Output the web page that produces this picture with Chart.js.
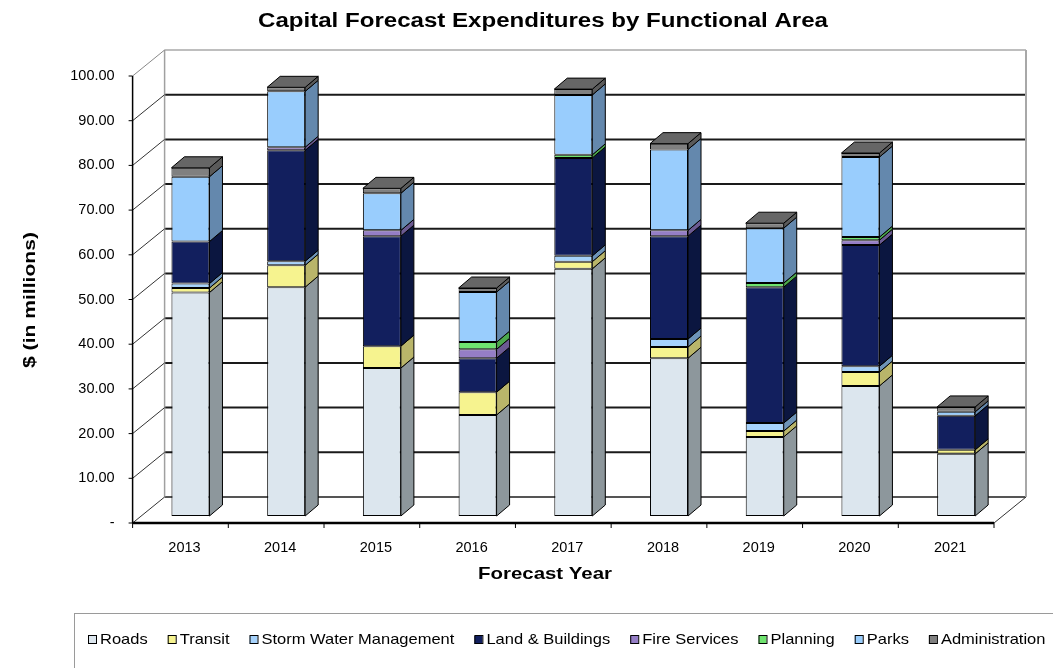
<!DOCTYPE html>
<html lang="en">

<head>
  <meta charset="UTF-8" />
  <title>Capital Forecast Expenditures by Functional Area</title>
  <script src="https://cdn.jsdelivr.net/npm/chart.js"></script>
  <style>
    body {
      margin: 0;
      background: #ffffff;
    }

    canvas {
      display: block;
    }
  </style>
</head>

<body>
  <canvas id="capitalChart" width="1053" height="668"></canvas>

  <script>
    // Dados ($ em milhões)
    const years = ['2013', '2014', '2015', '2016', '2017', '2018', '2019', '2020', '2021'];
    const roads = [50.0, 51.2, 33.1, 22.6, 55.3, 35.3, 17.7, 29.1, 13.9];
    const transit = [1.0, 4.9, 4.9, 5.1, 1.6, 2.5, 1.3, 3.1, 0.9];
    const stormWater = [1.0, 0.9, 0, 0, 1.3, 1.8, 1.8, 1.3, 0];
    const landBuildings = [9.4, 24.8, 24.6, 7.6, 21.9, 23.0, 30.4, 27.1, 7.6];
    const fireServices = [0, 0.7, 1.3, 2.0, 0, 1.3, 0, 1.1, 0];
    const planning = [0, 0, 0, 1.6, 0.7, 0, 0.9, 0.7, 0];
    const parks = [14.5, 12.5, 8.3, 11.2, 13.4, 18.1, 12.3, 17.9, 0.9];
    const administration = [2.0, 0.9, 1.1, 0.9, 1.3, 1.3, 1.1, 0.9, 1.1];

    const seriesNames = ['Roads', 'Transit', 'Storm Water Management', 'Land & Buildings',
      'Fire Services', 'Planning', 'Parks', 'Administration'];
    const seriesData = [roads, transit, stormWater, landBuildings, fireServices, planning, parks, administration];

    const yMax = 100;
    const yStep = 10;

    // cores: frente / lateral / topo
    const frontColors = ['#dce6ee', '#f6f38f', '#a6d2fb', '#121f5e', '#957ec6', '#6fe36f', '#99cdfd', '#808080'];
    const sideColors = ['#8d979c', '#b9b56a', '#6d93b8', '#0b1640', '#6b5a92', '#4ca84c', '#6488ad', '#5a5a5a'];
    const topColors = ['#b8c2c8', '#d8d47a', '#88b0d8', '#0e1a4e', '#7d6aaa', '#58c058', '#7aa0c8', '#666666'];

    const FONT = "'Liberation Sans', Arial, sans-serif";

    // texto com largura alvo (a fonte do original é mais "larga")
    function stretchText(ctx, text, x, y, font, targetW, align) {
      ctx.font = font;
      const w = ctx.measureText(text).width;
      const s = targetW ? targetW / w : 1;
      ctx.save();
      ctx.translate(x, y);
      ctx.scale(s, 1);
      ctx.textAlign = align || 'center';
      ctx.textBaseline = 'middle';
      ctx.fillStyle = '#000';
      ctx.fillText(text, 0, 0);
      ctx.restore();
      return w * s;
    }

    function line(ctx, x0, y0, x1, y1, color, width) {
      ctx.beginPath();
      ctx.moveTo(x0, y0);
      ctx.lineTo(x1, y1);
      ctx.strokeStyle = color;
      ctx.lineWidth = width;
      ctx.stroke();
    }

    function poly(ctx, pts, fill) {
      ctx.beginPath();
      ctx.moveTo(pts[0][0], pts[0][1]);
      for (let k = 1; k < pts.length; k++) ctx.lineTo(pts[k][0], pts[k][1]);
      ctx.closePath();
      ctx.fillStyle = fill;
      ctx.fill();
      ctx.strokeStyle = '#000';
      ctx.lineWidth = 1;
      ctx.stroke();
    }

    // efeito 3D: paredes, piso, faces laterais e topo
    const box3d = {
      id: 'box3d',
      beforeDatasetsDraw(chart) {
        const ctx = chart.ctx;
        const a = chart.chartArea;
        const ys = chart.scales.y;
        const F = { dx: -10, dy: 7 };
        const B = { dx: 22, dy: -19 };
        const fx0 = a.left + F.dx, fx1 = a.right + F.dx;
        const bx0 = a.left + B.dx, bx1 = a.right + B.dx;
        const fy = v => ys.getPixelForValue(v) + F.dy;
        const by = v => ys.getPixelForValue(v) + B.dy;

        ctx.save();
        // linhas de grade na parede do fundo
        for (let v = yStep; v < yMax; v += yStep) {
          line(ctx, bx0, by(v), bx1, by(v), '#1a1a1a', 2);
        }
        line(ctx, bx0, by(0), bx1, by(0), '#555', 2);
        line(ctx, bx0, by(yMax), bx1, by(yMax), '#a8a8a8', 1.5);
        line(ctx, bx1, by(yMax), bx1, by(0), '#a8a8a8', 2);
        line(ctx, bx0, by(yMax), bx0, by(0), '#a0a0a0', 1.5);

        // parede lateral
        for (let v = 0; v <= yMax; v += yStep) {
          line(ctx, fx0, fy(v), bx0, by(v), v === yMax ? '#888' : '#333', 1);
          line(ctx, fx0 - 4, fy(v), fx0, fy(v), '#000', 1);
        }
        line(ctx, fx0, fy(yMax), fx0, fy(0), '#000', 1.5);

        // piso
        line(ctx, fx1, fy(0), bx1, by(0), '#333', 1);
        line(ctx, fx0, fy(0), fx1, fy(0), '#000', 2.5);
        const n = years.length;
        for (let k = 0; k <= n; k++) {
          const x = fx0 + k * (fx1 - fx0) / n;
          line(ctx, x, fy(0), x, fy(0) + 5, '#000', 1);
        }
        ctx.restore();
      },
      afterDatasetsDraw(chart) {
        const ctx = chart.ctx;
        const DX = 13, DY = -11;
        ctx.save();
        chart.data.datasets.forEach((ds, di) => {
          const meta = chart.getDatasetMeta(di);
          meta.data.forEach((bar, i) => {
            if (!ds.data[i]) return;
            const p = bar.getProps(['x', 'y', 'base', 'width'], true);
            const xr = p.x + p.width / 2;
            poly(ctx, [[xr, p.y], [xr + DX, p.y + DY], [xr + DX, p.base + DY], [xr, p.base]], sideColors[di]);
          });
        });
        years.forEach((yr, i) => {
          let top = -1;
          chart.data.datasets.forEach((ds, di) => { if (ds.data[i]) top = di; });
          if (top < 0) return;
          const p = chart.getDatasetMeta(top).data[i].getProps(['x', 'y', 'width'], true);
          const xl = p.x - p.width / 2, xr = p.x + p.width / 2;
          poly(ctx, [[xl, p.y], [xl + DX, p.y + DY], [xr + DX, p.y + DY], [xr, p.y]], topColors[top]);
        });
        ctx.restore();
      },
      afterDraw(chart) {
        const ctx = chart.ctx;
        ctx.save();
        stretchText(ctx, 'Capital Forecast Expenditures by Functional Area', 543, 21, 'bold 20px ' + FONT, 570);
        stretchText(ctx, 'Forecast Year', 545, 574, 'bold 17px ' + FONT, 134);

        ctx.save();
        ctx.translate(30, 300);
        ctx.rotate(-Math.PI / 2);
        stretchText(ctx, '$ (in millions)', 0, 0, 'bold 17px ' + FONT, 136);
        ctx.restore();

        // legenda
        ctx.strokeStyle = '#9a9a9a';
        ctx.lineWidth = 1;
        ctx.strokeRect(74.5, 613.5, 1100, 100);
        const legendFont = '15px ' + FONT;
        let x = 88;
        const ly = 640;
        seriesNames.forEach((name, i) => {
          ctx.fillStyle = frontColors[i];
          ctx.fillRect(x, ly - 4, 8, 8);
          ctx.strokeStyle = '#000';
          ctx.lineWidth = 1;
          ctx.strokeRect(x + 0.5, ly - 4.5, 8, 8);
          ctx.font = legendFont;
          const tw = ctx.measureText(name).width * 1.1;
          stretchText(ctx, name, x + 12, ly, legendFont, tw, 'left');
          x += 12 + tw + 20;
        });
        ctx.restore();
      }
    };

    const datasets = seriesNames.map((name, i) => ({
      label: name,
      data: seriesData[i],
      backgroundColor: frontColors[i],
      borderColor: '#000',
      borderWidth: 1,
      borderSkipped: false,
      barPercentage: 0.397,
      categoryPercentage: 1
    }));

    new Chart(document.getElementById('capitalChart'), {
      type: 'bar',
      data: { labels: years, datasets },
      options: {
        responsive: false,
        animation: false,
        layout: { padding: { top: 69, right: 49, left: 0, bottom: 0 } },
        plugins: {
          legend: { display: false },
          tooltip: { enabled: false },
          title: { display: false }
        },
        scales: {
          x: {
            stacked: true,
            grid: { display: false, drawTicks: false },
            border: { display: false },
            ticks: {
              color: '#000',
              font: { family: FONT, size: 14.5 },
              padding: 23,
              labelOffset: -6,
              autoSkip: false,
              maxRotation: 0
            },
            afterFit: s => { s.height = 152; }
          },
          y: {
            stacked: true,
            min: 0,
            max: yMax,
            grid: { display: false, drawTicks: false },
            border: { display: false },
            ticks: {
              stepSize: yStep,
              color: '#000',
              font: { family: FONT, size: 14.5 },
              padding: 28,
              labelOffset: 7,
              callback: v => v === 0 ? '-' : v.toFixed(2)
            },
            afterFit: s => { s.width = 142.6; }
          }
        }
      },
      plugins: [box3d]
    });
  </script>
</body>

</html>
